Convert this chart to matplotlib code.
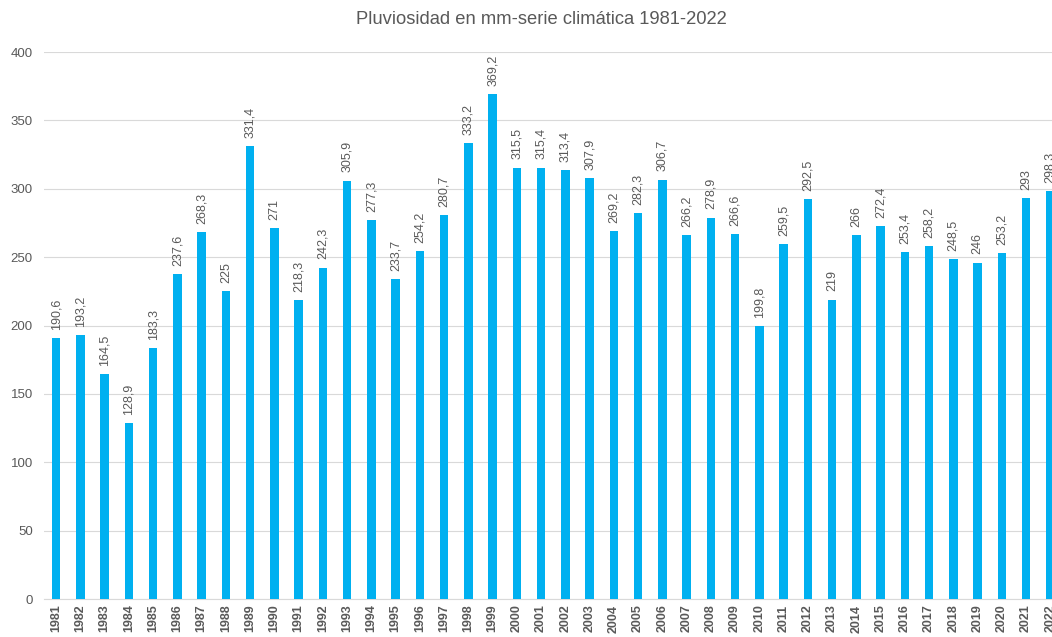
import matplotlib.pyplot as plt

plt.rcParams['font.family'] = ['Liberation Sans', 'DejaVu Sans']

years = [str(y) for y in range(1981, 2023)]
rain = [190.6, 193.2, 164.5, 128.9, 183.3, 237.6, 268.3, 225, 331.4, 271,
        218.3, 242.3, 305.9, 277.3, 233.7, 254.2, 280.7, 333.2, 369.2, 315.5,
        315.4, 313.4, 307.9, 269.2, 282.3, 306.7, 266.2, 278.9, 266.6, 199.8,
        259.5, 292.5, 219, 266, 272.4, 253.4, 258.2, 248.5, 246, 253.2,
        293, 298.3]
yticks = [0, 50, 100, 150, 200, 250, 300, 350, 400]

grey = '#595959'

fig = plt.figure(figsize=(10.52, 6.37), dpi=100)
# the reference is cropped on the right, so the axes run past the figure edge
ax = fig.add_axes([44 / 1052, 38 / 637, 1018.4 / 1052, 547 / 637])

x = range(len(years))
ax.bar(x, rain, width=0.35, color='#00B0F0', zorder=3)

for xi, v in zip(x, rain):
    txt = ('%g' % v).replace('.', ',')
    ax.text(xi, v + 6, txt, rotation=90, ha='center', va='bottom',
            fontsize=9, color=grey)

ax.set_xlim(-0.5, len(years) - 0.5)
ax.set_ylim(0, 400)
ax.set_yticks(yticks)
ax.set_yticklabels([str(t) for t in yticks], fontsize=9.5, color=grey)
ax.set_xticks(list(x))
ax.set_xticklabels(years, rotation=90, fontsize=9, color=grey, fontweight='bold')
ax.tick_params(length=0, pad=8)
ax.tick_params(axis='x', pad=4)
ax.grid(axis='y', color='#D9D9D9', linewidth=0.8, zorder=0)
for s in ['top', 'right', 'left']:
    ax.spines[s].set_visible(False)
ax.spines['bottom'].set_color('#D9D9D9')

fig.text(541 / 1052, 1 - 20 / 637, 'Pluviosidad en mm-serie climática 1981-2022',
         ha='center', va='center', fontsize=13.2, color=grey)

fig.savefig('out.png', dpi=100)
